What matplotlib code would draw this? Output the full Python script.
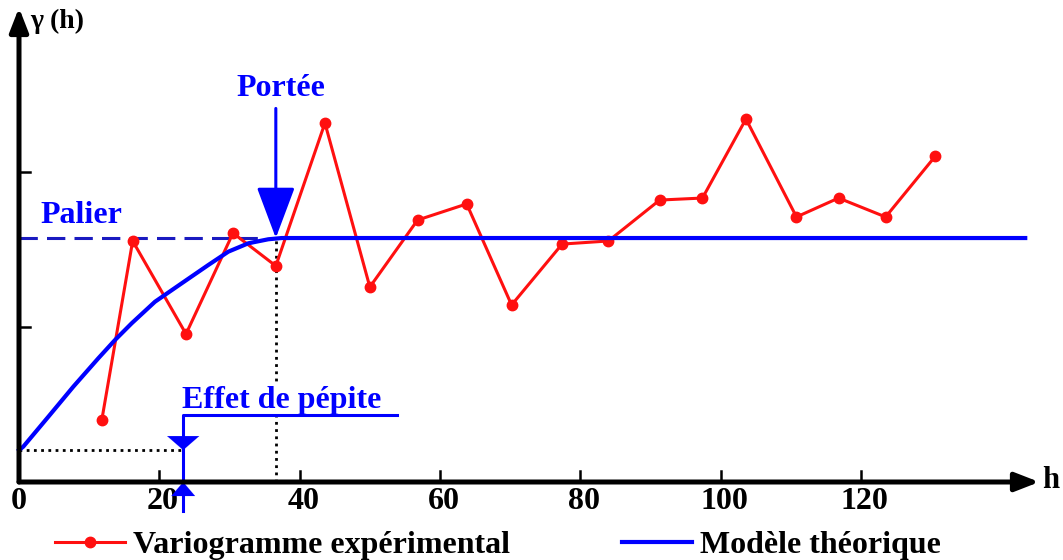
import numpy as np
import matplotlib.pyplot as plt
from matplotlib.lines import Line2D

# variogramme expérimental (h, gamma)
h_exp = [11.8, 16.2, 23.8, 30.5, 36.6, 43.6, 50.0, 56.8, 63.8, 70.2,
         77.4, 84.0, 91.3, 97.4, 103.6, 110.8, 116.8, 123.5, 130.6]
g_exp = [0.40, 1.555, 0.955, 1.606, 1.394, 2.316, 1.258, 1.690, 1.794, 1.142,
         1.535, 1.555, 1.819, 1.832, 2.342, 1.710, 1.832, 1.710, 2.103]

# modèle théorique
h_mod = [0.0, 0.61, 4.18, 7.74, 11.30, 13.68, 16.06, 19.38, 23.19, 26.98,
         29.83, 32.68, 35.53, 37.44, 143.4]
g_mod = [0.206, 0.228, 0.421, 0.615, 0.798, 0.916, 1.024, 1.163, 1.282, 1.400,
         1.486, 1.540, 1.566, 1.574, 1.574]

pepite = 0.206
palier = 1.574
portee = 36.6
x_ticks = [20, 40, 60, 80, 100, 120]
y_ticks = [1, 2]

W, H = 1063, 560
fig = plt.figure(figsize=(W / 100, H / 100), dpi=100)
ax = fig.add_axes([0, 0, 1, 1])
ax.set_axis_off()
# échelle : 7.017 px par unité de h, 155 px par unité de gamma, origine en (19, 482)
sx, sy, x0, y0 = 7.017, 155.0, 19, 482
ax.set_xlim(-x0 / sx, (W - x0) / sx)
ax.set_ylim((y0 - H) / sy, y0 / sy)

font = dict(family='Liberation Serif', weight='bold')
blue = '#0000ff'
red = '#ff1010'

# axes avec flèches
ax.annotate('', xy=(0, 3.06), xytext=(0, 0),
            arrowprops=dict(arrowstyle='-|>,head_length=0.9,head_width=0.35', lw=3.6,
                            color='k', mutation_scale=16, shrinkA=0, shrinkB=0), zorder=6)
ax.annotate('', xy=(145.4, 0), xytext=(0, 0),
            arrowprops=dict(arrowstyle='-|>,head_length=0.9,head_width=0.35', lw=3.6,
                            color='k', mutation_scale=16, shrinkA=0, shrinkB=0), zorder=6)
for t in x_ticks:
    ax.plot([t, t], [0, 0.07], color='k', lw=1.8, zorder=6)
    ax.text(t + 0.5, -0.03, str(t), ha='center', va='top', fontsize=23, **font)
ax.text(0, -0.03, '0', ha='center', va='top', fontsize=23, **font)
for t in y_ticks:
    ax.plot([0, 1.6], [t, t], color='k', lw=1.8, zorder=6)
ax.text(1.6, 2.97, 'γ (h)', ha='left', va='center', fontsize=20, **font)
ax.text(145.8, 0.01, 'h', ha='left', va='center', fontsize=22, **font)

# palier en tirets + modèle
ax.plot([0, 34.0], [palier, palier], color='#1a1ac0', lw=2.2, ls=(0, (6, 3)), zorder=2)
ax.plot(h_mod, g_mod, color=blue, lw=3, zorder=4)

# variogramme expérimental
ax.plot(h_exp, g_exp, color=red, lw=2.2, marker='o', ms=7.5, zorder=3)

# lignes pointillées
ax.plot([0, 23.4], [pepite, pepite], color='k', lw=2, ls=(0, (1, 1.6)), zorder=1)
ax.plot([portee, portee], [0, palier], color='k', lw=2, ls=(0, (1, 1.6)), zorder=1)

# portée
ax.annotate('', xy=(portee, palier), xytext=(portee, 2.41),
            arrowprops=dict(arrowstyle='-|>,head_length=1.6,head_width=0.6', lw=2.2,
                            color=blue, mutation_scale=20, shrinkA=0, shrinkB=0), zorder=5)
ax.text(portee + 0.7, 2.54, 'Portée', ha='center', va='center', color=blue, fontsize=23, **font)
ax.text(3.0, 1.72, 'Palier', ha='left', va='center', color=blue, fontsize=23, **font)

# effet de pépite
xp = 23.4
ax.plot([xp, xp, 53.9], [-0.19, 0.432, 0.432], color=blue, lw=2.2, zorder=5.5)
ax.annotate('', xy=(xp, pepite), xytext=(xp, 0.32),
            arrowprops=dict(arrowstyle='-|>,head_length=1.0,head_width=1.15', lw=0.1,
                            color=blue, mutation_scale=10, shrinkA=0, shrinkB=0), zorder=5.5)
ax.annotate('', xy=(xp, 0), xytext=(xp, -0.12),
            arrowprops=dict(arrowstyle='-|>,head_length=1.0,head_width=0.85', lw=0.1,
                            color=blue, mutation_scale=10, shrinkA=0, shrinkB=0), zorder=5.5)
ax.text(xp - 0.1, 0.525, 'Effet de pépite', ha='left', va='center', color=blue, fontsize=23,
        bbox=dict(facecolor='white', edgecolor='none', pad=1), zorder=5, **font)

# légende
handles = [Line2D([], [], color=red, lw=2.2, marker='o', ms=7.5),
           Line2D([], [], color=blue, lw=3)]
fig.legend(handles, ['Variogramme expérimental', 'Modèle théorique'],
           loc='center left', bbox_to_anchor=(55 / W, 1 - 545 / H), ncol=2, frameon=False,
           prop=dict(family='Liberation Serif', weight='bold', size=23),
           handlelength=2.2, handletextpad=0.25, columnspacing=3.5,
           borderpad=0, borderaxespad=0)

fig.savefig('out.png', dpi=100)
